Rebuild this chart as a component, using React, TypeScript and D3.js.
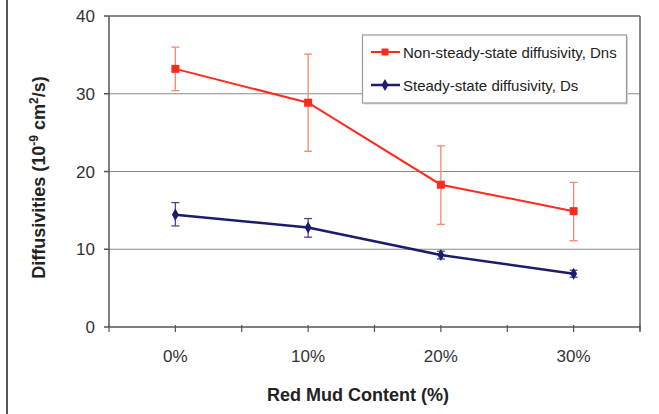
import React from "react";
import * as d3 from "d3";

const categories = ["0%", "10%", "20%", "30%"];
const dnsValues = [33.2, 28.85, 18.3, 14.9];
const dnsErrHigh = [36.0, 35.1, 23.3, 18.6];
const dnsErrLow = [30.4, 22.6, 13.2, 11.1];
const dsValues = [14.45, 12.8, 9.25, 6.85];
const dsErrHigh = [16.0, 13.95, 9.75, 7.3];
const dsErrLow = [13.0, 11.55, 8.75, 6.4];
const yTicks = [0, 10, 20, 30, 40];
const seriesNames = ["Non-steady-state diffusivity, Dns", "Steady-state diffusivity, Ds"];

const W = 659;
const H = 414;
const left = 109;
const right = 640;
const top = 16;
const bottom = 327;

const RED = "#ff2a1f";
const RED_ERR = "#f8876c";
const NAVY = "#1c1c6c";
const NAVY_ERR = "#4b4b8c";
const FONT = "Arial, 'Liberation Sans', Helvetica, sans-serif";

export default function App() {
  const x = d3.scalePoint<string>().domain(categories).range([left, right]).padding(0.5);
  const y = d3.scaleLinear().domain([0, 40]).range([bottom, top]);
  const step = x.step();
  const tickXs = d3.range(0, categories.length * 2 + 1).map((k) => left + (k * step) / 2);

  const line = d3
    .line<number>()
    .x((_, i) => x(categories[i])!)
    .y((v) => y(v));

  const diamond = d3.symbol().type(d3.symbolDiamond).size(42)()!;

  const errBars = (hi: number[], lo: number[], color: string, key: string) =>
    categories.map((c, i) => {
      const cx = x(c)!;
      return (
        <g key={key + i} stroke={color} strokeWidth={1.3}>
          <line x1={cx} x2={cx} y1={y(hi[i])} y2={y(lo[i])} />
          <line x1={cx - 4} x2={cx + 4} y1={y(hi[i])} y2={y(hi[i])} />
          <line x1={cx - 4} x2={cx + 4} y1={y(lo[i])} y2={y(lo[i])} />
        </g>
      );
    });

  return (
    <svg
      width={W}
      height={H}
      style={{ position: "absolute", left: 0, top: 0, background: "#fff" }}
      fontFamily={FONT}
    >
      {/* page edge */}
      <line x1={7} x2={7} y1={0} y2={H} stroke="#555" strokeWidth={2} />

      {/* gridlines */}
      {yTicks.slice(1, -1).map((t) => (
        <line key={"g" + t} x1={left} x2={right} y1={y(t)} y2={y(t)} stroke="#8a8a8a" strokeWidth={1} />
      ))}

      {/* plot frame */}
      <line x1={left} x2={right} y1={top} y2={top} stroke="#666" strokeWidth={1.5} />
      <line x1={right} x2={right} y1={top} y2={bottom + 4} stroke="#666" strokeWidth={1.5} />
      <line x1={left} x2={left} y1={top} y2={bottom} stroke="#555" strokeWidth={1.5} />
      <line x1={left} x2={right} y1={bottom} y2={bottom} stroke="#555" strokeWidth={1.5} />

      {/* y ticks */}
      {yTicks.map((t) => (
        <g key={"yt" + t}>
          <line x1={left - 5} x2={left} y1={y(t)} y2={y(t)} stroke="#555" strokeWidth={1.5} />
          <text x={95} y={y(t) + 6} textAnchor="end" fontSize={17} fill="#333">
            {t}
          </text>
        </g>
      ))}

      {/* x ticks */}
      {tickXs.map((tx, k) => (
        <line key={"xt" + k} x1={tx} x2={tx} y1={bottom - 2} y2={bottom + 5} stroke="#555" strokeWidth={1.2} />
      ))}
      {categories.map((c) => (
        <text key={"xl" + c} x={x(c)!} y={362} textAnchor="middle" fontSize={17} fill="#333">
          {c}
        </text>
      ))}

      {/* axis titles */}
      <text x={358} y={401} textAnchor="middle" fontSize={18} fontWeight="bold" fill="#222">
        Red Mud Content (%)
      </text>
      <text
        transform={`translate(45, ${(top + bottom) / 2 + 6}) rotate(-90)`}
        textAnchor="middle"
        fontSize={18}
        fontWeight="bold"
        fill="#222"
      >
        Diffusivities (10
        <tspan dy={-7} fontSize={12}>-9</tspan>
        <tspan dy={7}> cm</tspan>
        <tspan dy={-7} fontSize={12}>2</tspan>
        <tspan dy={7}>/s)</tspan>
      </text>

      {/* error bars */}
      {errBars(dnsErrHigh, dnsErrLow, RED_ERR, "re")}
      {errBars(dsErrHigh, dsErrLow, NAVY_ERR, "be")}

      {/* series lines */}
      <path d={line(dnsValues)!} fill="none" stroke={RED} strokeWidth={2} />
      <path d={line(dsValues)!} fill="none" stroke={NAVY} strokeWidth={2.5} />

      {/* markers */}
      {dnsValues.map((v, i) => (
        <rect key={"rm" + i} x={x(categories[i])! - 4} y={y(v) - 4} width={8} height={8} fill={RED} />
      ))}
      {dsValues.map((v, i) => (
        <path key={"bm" + i} d={diamond} transform={`translate(${x(categories[i])},${y(v)})`} fill={NAVY} />
      ))}

      {/* legend */}
      <g>
        <rect x={364} y={36.5} width={264} height={68} fill="#d8d8d8" />
        <rect x={362.5} y={35} width={264} height={68} fill="#fff" stroke="#999" strokeWidth={1.2} />
        <line x1={371} x2={400} y1={52} y2={52} stroke={RED} strokeWidth={2} />
        <rect x={381.5} y={48.5} width={7} height={7} fill={RED} />
        <text x={403} y={57.5} fontSize={15} fill="#222">
          {seriesNames[0]}
        </text>
        <line x1={371} x2={400} y1={85} y2={85} stroke={NAVY} strokeWidth={2.5} />
        <path d={diamond} transform="translate(385,85)" fill={NAVY} />
        <text x={403} y={90.5} fontSize={15} fill="#222">
          {seriesNames[1]}
        </text>
      </g>
    </svg>
  );
}
